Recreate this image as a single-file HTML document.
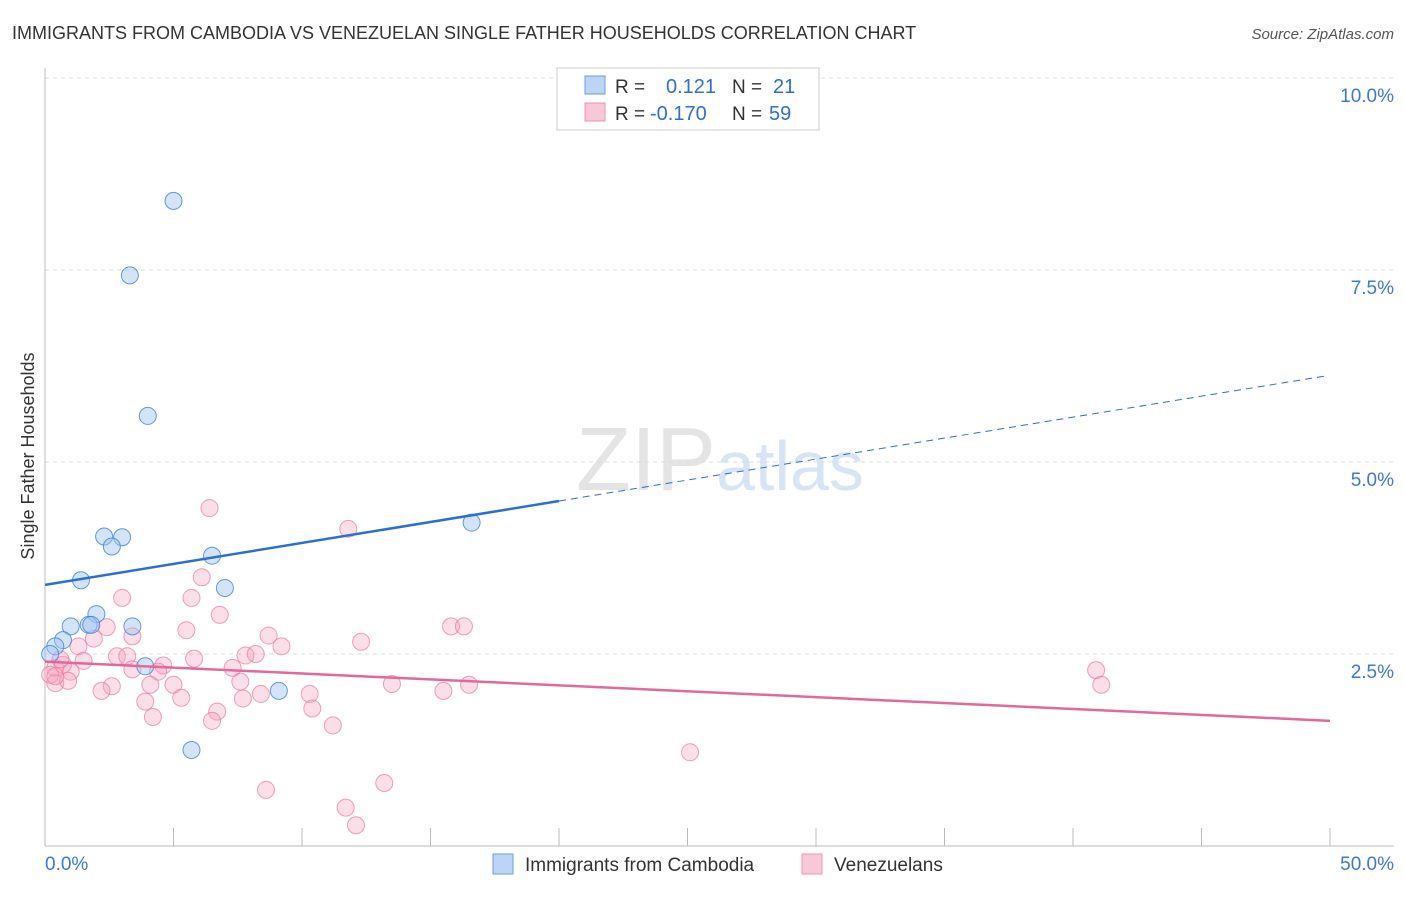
<!DOCTYPE html>
<html><head><meta charset="utf-8"><style>
body{margin:0;background:#fff;font-family:"Liberation Sans",sans-serif}
svg text{font-family:"Liberation Sans",sans-serif}
</style></head><body>
<svg id="c" width="1406" height="892">
<text x="12" y="39" font-size="18" fill="#333">IMMIGRANTS FROM CAMBODIA VS VENEZUELAN SINGLE FATHER HOUSEHOLDS CORRELATION CHART</text>
<text x="1394" y="39" font-size="15" fill="#555" font-style="italic" text-anchor="end">Source: ZipAtlas.com</text>
<text x="720" y="490" font-size="90" fill="#e4e4e4" text-anchor="middle" font-family="Liberation Serif">ZIP<tspan fill="#d6e4f5" font-family="Liberation Sans" font-size="70">atlas</tspan></text>
<text transform="translate(34,456) rotate(-90)" font-size="18" fill="#333" text-anchor="middle">Single Father Households</text>
<g id="grid"></g><g id="pts"></g><g id="lines"></g>
<g>
<rect x="557" y="68" width="262" height="62" fill="#fff" stroke="#ccc"/>
<rect x="585" y="76" width="20" height="18" fill="#bcd4f5" stroke="#6a9de0"/>
<rect x="585" y="103" width="20" height="18" fill="#f9c8d8" stroke="#ec93b0"/>
<text x="615" y="93" font-size="19" fill="#333">R = </text><text x="666" y="93" font-size="20" fill="#2d6fd6">0.121</text>
<text x="732" y="93" font-size="19" fill="#333">N = </text><text x="773" y="93" font-size="20" fill="#2d6fd6">21</text>
<text x="615" y="120" font-size="19" fill="#333">R = </text><text x="650" y="120" font-size="20" fill="#2d6fd6">-0.170</text>
<text x="732" y="120" font-size="19" fill="#333">N = </text><text x="769" y="120" font-size="20" fill="#2d6fd6">59</text>
</g>
<g>
<rect x="493" y="854" width="20" height="20" fill="#bcd4f5" stroke="#6a9de0"/>
<text x="525" y="871" font-size="19" fill="#333">Immigrants from Cambodia</text>
<rect x="802" y="854" width="20" height="20" fill="#f9c8d8" stroke="#ec93b0"/>
<text x="834" y="871" font-size="19" fill="#333">Venezuelans</text>
</g>
<text x="45" y="870" font-size="19" fill="#3b78d8">0.0%</text>
<text x="1394" y="870" font-size="19" fill="#3b78d8" text-anchor="end">50.0%</text>
</svg>
<script>
const yTicks=[2.5,5.0,7.5,10.0];
const yTickLabels=["2.5%","5.0%","7.5%","10.0%"];
const xTicks=[0,5,10,15,20,25,30,35,40,45,50];
const cambodiaX=[5.0,3.3,4.0,2.3,3.0,2.6,6.5,1.4,7.0,2.0,1.0,1.7,1.8,3.4,0.7,0.4,0.2,3.9,9.1,5.7,16.6];
const cambodiaY=[8.40,7.43,5.60,4.03,4.02,3.90,3.78,3.46,3.36,3.02,2.86,2.88,2.88,2.86,2.68,2.60,2.50,2.34,2.02,1.25,4.21];
const venezX=[6.4,11.8,6.1,3.0,5.7,6.8,5.5,3.4,1.9,15.8,16.3,8.7,12.3,9.2,2.4,1.3,2.8,3.2,7.8,8.2,5.8,4.6,1.5,4.4,7.3,3.4,1.0,0.4,0.7,0.2,0.4,0.9,2.6,5.0,4.1,7.6,13.5,16.5,2.2,5.3,8.4,10.3,15.5,3.9,7.7,6.7,10.4,4.2,6.5,11.2,25.1,40.9,41.1,8.6,13.2,11.7,12.1,0.6,0.4];
const venezY=[4.40,4.13,3.50,3.23,3.23,3.01,2.81,2.73,2.70,2.86,2.86,2.74,2.66,2.60,2.85,2.60,2.47,2.47,2.48,2.50,2.44,2.35,2.41,2.27,2.32,2.30,2.27,2.32,2.36,2.23,2.12,2.15,2.08,2.10,2.10,2.14,2.11,2.10,2.02,1.93,1.98,1.98,2.02,1.88,1.92,1.75,1.79,1.68,1.63,1.57,1.22,2.29,2.10,0.73,0.82,0.50,0.27,2.43,2.21];
const trendBlue=[3.40,6.13];
const trendPink=[2.40,1.63];
const X0=45,X1=1330,Y0=846,PY=192/2.5;
const sx=v=>X0+(v/50)*(X1-X0), sy=v=>Y0-v*PY;
const NS="http://www.w3.org/2000/svg";
function mk(t,a,p){const e=document.createElementNS(NS,t);for(const k in a)e.setAttribute(k,a[k]);p.appendChild(e);return e;}
const g=document.getElementById('grid');
yTicks.forEach((v,i)=>{
 const l=mk('line',{x1:X0,x2:1394,y1:sy(v),y2:sy(v),stroke:'#ddd','stroke-dasharray':'4,4'},g);
 
 
 const t=mk('text',{x:1394,y:sy(v)+24,'font-size':19,fill:'#3b78d8','text-anchor':'end'},g);
 t.textContent=yTickLabels[i];
 
 
});
const ax=mk('line',{x1:X0,x2:1394,y1:Y0,y2:Y0,stroke:'#bbb'},g);


const ay=mk('line',{x1:X0,x2:X0,y1:68,y2:Y0,stroke:'#bbb'},g);


xTicks.forEach(v=>{
 const l=mk('line',{x1:sx(v),x2:sx(v),y1:Y0,y2:Y0-18,stroke:'#bbb'},g);
 
 
});
const p=document.getElementById('pts');
venezX.forEach((x,i)=>{
 const c=mk('circle',{cx:sx(x),cy:sy(venezY[i]),r:8.5,fill:'rgba(244,160,190,0.35)',stroke:'rgba(232,120,160,0.7)','stroke-width':1},p);
 
 
});
cambodiaX.forEach((x,i)=>{
 const c=mk('circle',{cx:sx(x),cy:sy(cambodiaY[i]),r:8.5,fill:'rgba(160,195,240,0.45)',stroke:'rgba(60,130,220,0.8)','stroke-width':1},p);
 
 
});
const L=document.getElementById('lines');
const bAt=x=>trendBlue[0]+(trendBlue[1]-trendBlue[0])*x/50;
const b1=mk('line',{x1:sx(0),y1:sy(bAt(0)),x2:sx(20),y2:sy(bAt(20)),stroke:'#2a6fd6','stroke-width':2.5},L);


const b2=mk('line',{x1:sx(20),y1:sy(bAt(20)),x2:sx(49.8),y2:sy(bAt(49.8)),stroke:'#2a6fd6','stroke-width':1,'stroke-dasharray':'7,5'},L);


const pl=mk('line',{x1:sx(0),y1:sy(trendPink[0]),x2:sx(50),y2:sy(trendPink[1]),stroke:'#e4689a','stroke-width':2.5},L);


</script>
</body></html>
